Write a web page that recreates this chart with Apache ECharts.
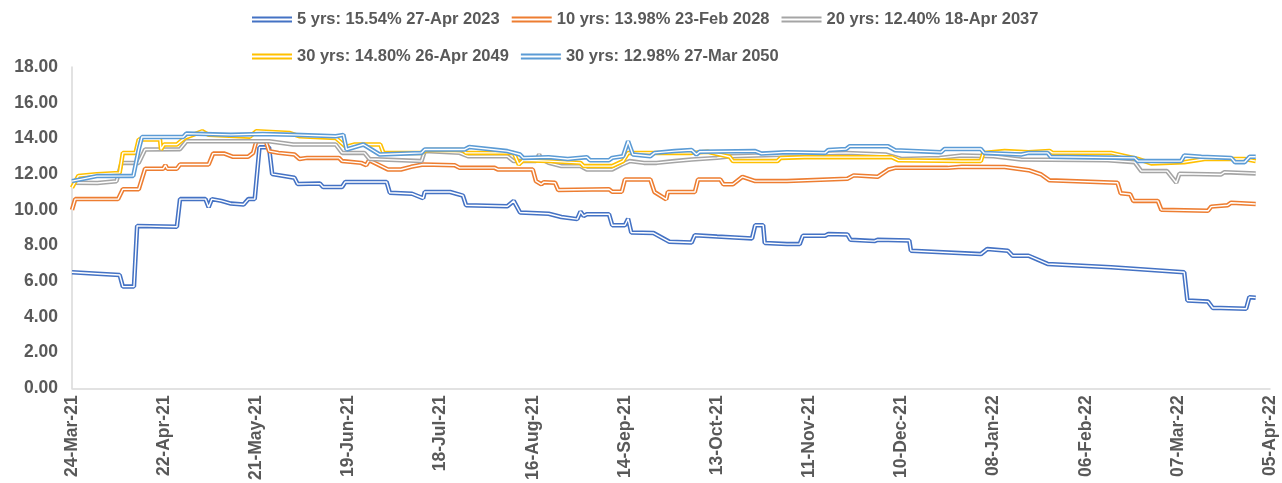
<!DOCTYPE html>
<html>
<head>
<meta charset="utf-8">
<script src="https://cdn.jsdelivr.net/npm/echarts@6/dist/echarts.min.js"></script>
<style>
  html, body { margin: 0; padding: 0; background: #ffffff; }
  #chart { width: 1282px; height: 483px; }
</style>
</head>
<body>
<div id="chart"></div>
<script>
// x values are days counted from 24-Mar-21
var xLabels = ['24-Mar-21', '22-Apr-21', '21-May-21', '19-Jun-21', '18-Jul-21', '16-Aug-21', '14-Sep-21',
  '13-Oct-21', '11-Nov-21', '10-Dec-21', '08-Jan-22', '06-Feb-22', '07-Mar-22', '05-Apr-22'];

var names = ['5 yrs: 15.54% 27-Apr 2023', '10 yrs: 13.98% 23-Feb 2028', '20 yrs: 12.40% 18-Apr 2037',
  '30 yrs: 14.80% 26-Apr 2049', '30 yrs: 12.98% 27-Mar 2050'];
var colors = ['#4472C4', '#ED7D31', '#A5A5A5', '#FFC000', '#5B9BD5'];

var yrs5 = [[0,6.5],[8,6.42],[15,6.35],[16,5.7],[19.5,5.7],[20.5,9.1],[33,9.05],[34,10.6],[42,10.6],[43,10.15],
  [44,10.6],[47,10.5],[50,10.35],[54,10.3],[55.5,10.6],[57.5,10.6],[59,13.5],[62,13.5],[63,12.0],[70,11.8],
  [71,11.45],[78,11.47],[79,11.28],[85,11.28],[86,11.56],[99,11.56],[100,10.96],[107,10.9],[110.5,10.65],[111,11.0],
  [119,11.0],[123,10.8],[124,10.26],[137,10.2],[139,10.5],[141,9.85],[150,9.78],[154,9.6],[159,9.48],[160,9.9],
  [161,9.66],[162,9.75],[169,9.75],[170,9.14],[174,9.14],[175,9.5],[176,8.73],[183,8.7],[188,8.21],[195,8.17],
  [196,8.58],[203,8.5],[208.5,8.45],[214,8.4],[215,9.14],[217.5,9.14],[218,8.14],[225,8.08],[229,8.08],[230,8.55],
  [237,8.55],[238,8.64],[244,8.62],[245,8.32],[252.5,8.25],[253.5,8.32],[263.5,8.28],[264,7.71],[286,7.52],[288,7.8],
  [294.5,7.71],[296,7.43],[301,7.43],[307,6.97],[327,6.78],[350,6.5],[351,4.92],[357.5,4.86],[359,4.5],[361.5,4.5],
  [362,4.55],[369.5,4.46],[370.5,5.11],[372.5,5.08]];

var yrs10 = [[0,10.0],[1,10.6],[14.5,10.6],[16,11.15],[21,11.15],[23,12.3],[28.7,12.3],[29.4,12.5],[30,12.3],[33,12.3],
  [34,12.54],[43,12.54],[44.4,13.15],[48,13.15],[50.7,12.97],[55.4,12.97],[57,13.19],[58,13.84],[61,13.84],[62,13.29],
  [65,13.19],[70,13.1],[71.6,12.85],[74,12.91],[84,12.91],[85,12.73],[91,12.63],[92.6,12.5],[93.5,12.78],[99.4,12.26],
  [103.5,12.26],[106.7,12.41],[110.5,12.54],[120.4,12.5],[122,12.35],[133,12.35],[134,12.26],[145,12.26],[146,11.61],
  [147.7,11.43],[148.5,11.55],[152,11.52],[153,11.11],[169,11.15],[170,11.01],[173,11.01],[174,11.7],[182,11.7],
  [183.3,11.0],[187,10.59],[187.5,11.0],[196,11.0],[197,11.7],[204,11.7],[205,11.43],[208,11.43],[211,11.85],
  [215,11.61],[225,11.61],[244,11.74],[246,11.93],[253.5,11.85],[257,12.26],[259,12.35],[275.6,12.35],[280,12.41],
  [293.5,12.4],[301,12.22],[305,11.98],[307.6,11.65],[329,11.52],[330,10.93],[333,10.87],[334,10.5],[341.7,10.5],
  [342.8,10.0],[357.5,9.95],[358.5,10.18],[363.7,10.26],[364.8,10.4],[372.5,10.33]];

var yrs20 = [[0,11.52],[8,11.5],[14,11.6],[15.6,12.63],[21,12.63],[23,13.38],[34,13.4],[36,13.84],[57,13.84],[62,13.84],
  [69.6,13.66],[83,13.66],[85,13.19],[92,13.19],[93.6,12.85],[110,12.73],[111,13.29],[122,13.19],[124.6,13.0],[137,13.0],
  [139,12.73],[146,12.73],[147,13.1],[147.7,12.85],[150,12.63],[154,12.45],[160,12.45],[162,12.26],[170,12.26],[173,12.54],
  [175.5,12.73],[180,12.63],[184,12.63],[189.6,12.73],[195,12.82],[203,12.91],[207.5,13.0],[226,13.1],[243.6,13.19],
  [256,13.1],[261,12.85],[273,12.91],[280,13.04],[290,13.0],[298.7,12.82],[326,12.78],[334.4,12.67],[336.5,12.17],
  [344.6,12.17],[347.5,11.52],[348.5,12.02],[361.6,11.98],[362.7,12.11],[372.5,12.04]];

var yrs30a = [[0,11.24],[2,11.9],[7.8,12.0],[15,12.07],[16,13.19],[20,13.19],[21,13.94],[27.7,13.94],[28,13.38],[29,13.66],
  [33,13.66],[35.5,14.03],[41,14.4],[43,14.2],[56,14.1],[58,14.4],[68.6,14.3],[71.7,14.12],[83,14.03],[86,13.56],
  [87,13.56],[89,13.66],[97,13.66],[98,13.19],[110,13.19],[111.6,13.35],[123,13.35],[124,13.19],[139,13.19],[140.6,12.54],
  [142,12.78],[150,12.73],[160,12.63],[161,12.45],[170,12.45],[173.4,12.73],[175,13.19],[182,13.19],[195,13.19],[200,13.25],
  [207,12.97],[208,12.73],[222,12.73],[223,12.91],[230.5,12.95],[258,12.95],[260,12.78],[280,12.73],[286,12.73],
  [286.8,13.19],[293.5,13.29],[301,13.23],[307.6,13.3],[308.5,13.19],[327,13.19],[335.4,12.85],[339.6,12.6],[350,12.67],
  [356.4,12.85],[369,12.85],[372.5,12.73]];

var yrs30b = [[0,11.61],[7.8,11.89],[19.3,11.9],[21,13.38],[22,14.08],[35,14.08],[36,14.27],[50,14.2],[60,14.25],[70,14.2],
  [83,14.12],[85.4,14.2],[86.4,13.38],[91.7,13.66],[96.8,13.1],[110,13.19],[111,13.38],[123.6,13.38],[125,13.52],[137,13.29],
  [141,13.1],[142,12.91],[150,12.95],[156,12.85],[162,12.95],[163,12.78],[169,12.78],[170,12.91],[173.4,13.0],[175,13.84],
  [176.5,13.1],[182,13.0],[183.3,13.19],[189.6,13.29],[195,13.35],[196.5,13.1],[197.5,13.25],[215,13.29],[217,13.15],
  [225,13.23],[237,13.19],[238,13.35],[243.6,13.41],[244.7,13.56],[256.8,13.56],[259,13.34],[273.5,13.23],[274.6,13.41],
  [286,13.41],[287,13.19],[298.7,13.1],[301,13.19],[307,13.19],[308,12.97],[334.4,12.91],[335.4,12.73],[349,12.73],
  [350,13.04],[355.4,12.97],[364.8,12.91],[366,12.67],[369,12.67],[370.6,12.97],[372.5,12.97]];

var allData = [yrs5, yrs10, yrs20, yrs30a, yrs30b];

var chart = echarts.init(document.getElementById('chart'));
var font = "'Liberation Sans', Arial, sans-serif";
var icon = 'path://M0,0H40V2H0Z M0,4H40V6H0Z';

// Excel "double" line: a thick coloured line with a thin white line drawn over it
var series = [];
allData.forEach(function(d, i) {
  series.push({
    name: names[i],
    type: 'line',
    data: d,
    symbol: 'none',
    color: colors[i],
    lineStyle: { width: 4.5, color: colors[i] },
    animation: false
  });
  series.push({
    name: names[i] + ' inner',
    type: 'line',
    data: d,
    symbol: 'none',
    silent: true,
    lineStyle: { width: 1.4, color: '#ffffff' },
    animation: false
  });
});

var legendBase = {
  left: 247,
  icon: icon,
  itemWidth: 40,
  itemHeight: 6,
  itemGap: 12,
  symbolKeepAspect: false,
  selectedMode: false,
  textStyle: { color: '#595959', fontWeight: 'bold', fontSize: 16.5, fontFamily: font }
};

chart.setOption({
  backgroundColor: '#ffffff',
  animation: false,
  legend: [
    Object.assign({}, legendBase, { top: 6, data: names.slice(0, 3) }),
    Object.assign({}, legendBase, { top: 43, data: names.slice(3) })
  ],
  grid: { left: 72, right: 12, top: 67, bottom: 93 },
  xAxis: {
    type: 'value',
    min: 0,
    max: 377,
    interval: 29,
    splitLine: { show: false },
    axisTick: { show: false },
    axisLine: { lineStyle: { color: '#d9d9d9', width: 1.5 } },
    axisLabel: {
      rotate: 90,
      margin: 7,
      color: '#595959',
      fontWeight: 'bold',
      fontSize: 17.5,
      fontFamily: font,
      formatter: function(v) { return xLabels[Math.round(v / 29)]; }
    }
  },
  yAxis: {
    type: 'value',
    min: 0,
    max: 18,
    interval: 2,
    splitLine: { show: false },
    axisTick: { show: false },
    axisLine: { show: true, lineStyle: { color: '#d9d9d9', width: 1.5 } },
    axisLabel: {
      margin: 14,
      color: '#595959',
      fontWeight: 'bold',
      fontSize: 17.5,
      fontFamily: font,
      formatter: function(v) { return v.toFixed(2); }
    }
  },
  series: series
});
</script>
</body>
</html>
